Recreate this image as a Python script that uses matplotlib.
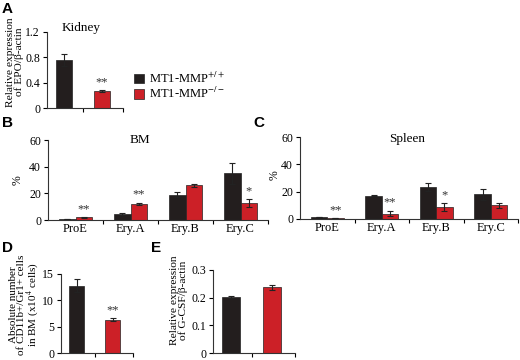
import matplotlib.pyplot as plt
from matplotlib.patches import Patch

plt.rcParams['font.family'] = ['Liberation Serif', 'DejaVu Serif']
plt.rcParams['mathtext.fontset'] = 'stix'

# data
genotypes = ['MT1-MMP$^{+/+}$', 'MT1-MMP$^{-/-}$']
stages = ['ProE', 'Ery.A', 'Ery.B', 'Ery.C']

kidney_epo = [0.76, 0.27]
kidney_err = [0.10, 0.01]
kidney_sig = ['', '**']

bm_wt = [0.6, 4.5, 19.0, 35.0]
bm_wt_err = [0.2, 0.4, 2.0, 8.0]
bm_ko = [2.0, 12.0, 26.0, 12.5]
bm_ko_err = [0.3, 1.0, 1.0, 3.0]
bm_sig = ['**', '**', '', '*']

spl_wt = [1.5, 17.0, 23.5, 18.0]
spl_wt_err = [0.2, 0.5, 3.0, 4.0]
spl_ko = [0.6, 4.0, 8.5, 10.0]
spl_ko_err = [0.2, 2.0, 3.0, 2.0]
spl_sig = ['**', '**', '*', '']

cd11b = [12.8, 6.3]
cd11b_err = [1.3, 0.3]
cd11b_sig = ['', '**']

gcsf = [0.202, 0.237]
gcsf_err = [0.003, 0.010]

BLACK = '#231e1e'
RED = '#cc2027'
colors = [BLACK, RED]

fig = plt.figure(figsize=(5.2, 3.6), dpi=100)
W, H = 520, 360


def add_ax(x0, x1, ytop, ybot):
    return fig.add_axes([x0 / W, 1 - ybot / H, (x1 - x0) / W, (ybot - ytop) / H])


def ylab(text, x, y, size=8.2):
    # y-axis titles placed in figure pixels, like the original layout
    fig.text(x / W, 1 - y / H, text, rotation=90, ha='center', va='center',
             fontsize=size, linespacing=0.85, multialignment='center')


def style(ax, yticks, ylim, ylabels=None):
    for s in ['top', 'right']:
        ax.spines[s].set_visible(False)
    for s in ['left', 'bottom']:
        ax.spines[s].set_linewidth(0.8)
        ax.spines[s].set_color('#333333')
    ax.set_ylim(*ylim)
    ax.set_yticks(yticks)
    if ylabels is not None:
        ax.set_yticklabels(ylabels)
    ax.tick_params(axis='y', direction='out', length=3, width=0.8, labelsize=8.5, pad=2)
    ax.tick_params(axis='x', which='major', length=0, labelsize=9, pad=2)
    ax.tick_params(axis='x', which='minor', direction='out', length=3, width=0.8)


def two_bar(ax, vals, errs, sig, ystep):
    xs = [0, 1]
    ax.bar(xs, vals, width=0.42, color=colors, edgecolor='#222222', linewidth=0.5,
           yerr=errs, error_kw=dict(ecolor='#222222', elinewidth=0.8, capsize=2, capthick=0.8))
    for x, v, e, s in zip(xs, vals, errs, sig):
        if s:
            ax.text(x, v + e + ystep, s, ha='center', va='bottom', fontsize=9, color='#333333')
    ax.set_xlim(-0.44, 1.56)
    ax.set_xticks([])
    ax.set_xticks([0.5, 1.56], minor=True)


def grouped(ax, wt, wt_err, ko, ko_err, sig):
    xs = list(range(len(stages)))
    ek = dict(ecolor='#222222', elinewidth=0.8, capsize=2, capthick=0.8)
    ax.bar([x - 0.15 for x in xs], wt, width=0.3, color=BLACK, edgecolor='#222222',
           linewidth=0.5, yerr=wt_err, error_kw=ek)
    ax.bar([x + 0.15 for x in xs], ko, width=0.3, color=RED, edgecolor='#222222',
           linewidth=0.5, yerr=ko_err, error_kw=ek)
    for x, v, e, s in zip(xs, ko, ko_err, sig):
        if s:
            ax.text(x + 0.15, v + e + 1.5, s, ha='center', va='bottom', fontsize=9, color='#333333')
    ax.set_xlim(-0.5, 3.5)
    ax.set_xticks(xs)
    ax.set_xticklabels(stages)
    ax.set_xticks([0.5, 1.5, 2.5, 3.5], minor=True)


# A - kidney
axA = add_ax(47, 123, 32, 108)
two_bar(axA, kidney_epo, kidney_err, kidney_sig, 0.03)
style(axA, [0, 0.4, 0.8, 1.2], (0, 1.2), ['0', '0.4', '0.8', '1.2'])
ylab('Relative expression\nof EPO/\u03b2-actin', 15, 62)
axA.text(0.45, 1.05, 'Kidney', transform=axA.transAxes, ha='center', va='center', fontsize=9.5)

handles = [Patch(facecolor=c, edgecolor='#222222', linewidth=0.5, label=g) for c, g in zip(colors, genotypes)]
fig.legend(handles=handles, loc='center left', bbox_to_anchor=(128 / W, 1 - 86 / H),
           frameon=False, fontsize=9, handlelength=0.8, handleheight=0.8,
           handletextpad=0.4, labelspacing=0.05, borderpad=0)

# B - BM
axB = add_ax(48, 268, 140, 220)
grouped(axB, bm_wt, bm_wt_err, bm_ko, bm_ko_err, bm_sig)
style(axB, [0, 20, 40, 60], (0, 60))
axB.text(0.42, 1.0, 'BM', transform=axB.transAxes, ha='center', va='center', fontsize=9.5)
ylab('%', 18, 180, size=8.5)

# C - spleen
axC = add_ax(300, 518, 137, 219)
grouped(axC, spl_wt, spl_wt_err, spl_ko, spl_ko_err, spl_sig)
style(axC, [0, 20, 40, 60], (0, 60))
axC.text(0.49, 0.97, 'Spleen', transform=axC.transAxes, ha='center', va='center', fontsize=9.5)
ylab('%', 275, 175, size=8.5)

# D - CD11b+/Gr1+
axD = add_ax(61, 133, 274, 353)
two_bar(axD, cd11b, cd11b_err, cd11b_sig, 0.3)
style(axD, [0, 5, 10, 15], (0, 15))
ylab('Absolute number\nof CD11b+/Gr1+ cells\nin BM (x10$^{4}$ cells)', 25, 305, size=8)

# E - G-CSF
axE = add_ax(213, 295, 270, 353)
two_bar(axE, gcsf, gcsf_err, ['', ''], 0.005)
style(axE, [0, 0.1, 0.2, 0.3], (0, 0.3), ['0', '0.1', '0.2', '0.3'])
ylab('Relative expression\nof G-CSF/\u03b2-actin', 179, 300)

# panel letters
for lab, x, y in [('A', 2, 2), ('B', 2, 116), ('C', 253, 116), ('D', 2, 241), ('E', 151, 241)]:
    fig.text(x / W, 1 - y / H, lab, fontsize=11, fontweight='bold', family='Liberation Sans',
             ha='left', va='top')

fig.savefig('out.png', dpi=100)
